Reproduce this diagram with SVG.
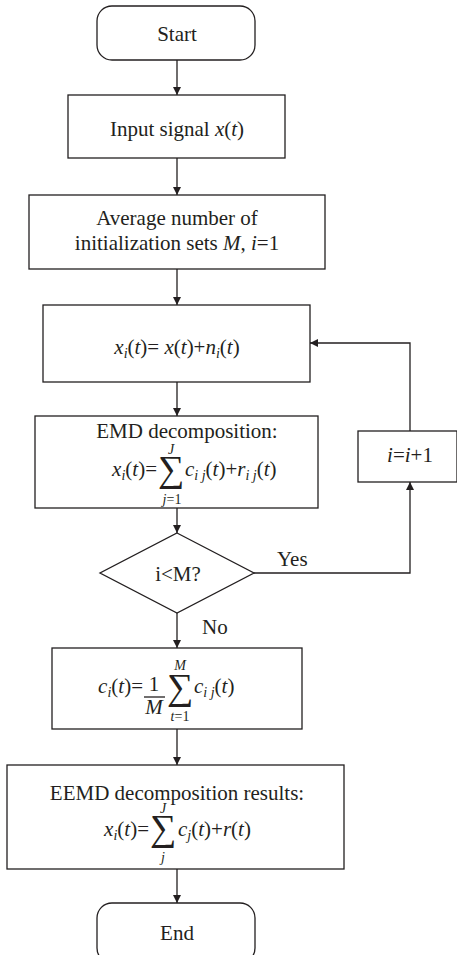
<svg xmlns="http://www.w3.org/2000/svg" width="457" height="955" viewBox="0 0 457 955">
  <defs>
    <marker id="arrow" viewBox="0 0 10 10" refX="10" refY="5" markerWidth="8" markerHeight="8" markerUnits="userSpaceOnUse" orient="auto">
      <path d="M0,0 L10,5 L0,10 z" fill="#231f20"/>
    </marker>
    <style>
      .box { fill: #ffffff; stroke: #231f20; stroke-width: 1.3; }
      .line { fill: none; stroke: #231f20; stroke-width: 1.3; }
      text { font-family: "Liberation Serif", "Times New Roman", serif; font-size: 21px; fill: #231f20; }
      .c { text-anchor: middle; }
      .e { text-anchor: end; }
      .it { font-style: italic; }
      .sm { font-size: 14px; }
      .sum { font-size: 37px; }
    </style>
  </defs>
  <rect width="457" height="955" fill="#ffffff"/>

  <!-- connectors -->
  <g id="connectors">
    <line class="line" x1="177" y1="60" x2="177" y2="95" marker-end="url(#arrow)"/>
    <line class="line" x1="177" y1="158" x2="177" y2="195" marker-end="url(#arrow)"/>
    <line class="line" x1="177" y1="269" x2="177" y2="305" marker-end="url(#arrow)"/>
    <line class="line" x1="177" y1="382" x2="177" y2="416" marker-end="url(#arrow)"/>
    <line class="line" x1="177" y1="508" x2="177" y2="533" marker-end="url(#arrow)"/>
    <line class="line" x1="177" y1="613" x2="177" y2="648" marker-end="url(#arrow)"/>
    <line class="line" x1="177" y1="729" x2="177" y2="765" marker-end="url(#arrow)"/>
    <line class="line" x1="177" y1="869" x2="177" y2="903" marker-end="url(#arrow)"/>
    <polyline class="line" points="254,573 410,573 410,482" marker-end="url(#arrow)"/>
    <polyline class="line" points="410,431 410,343 310,343" marker-end="url(#arrow)"/>
    <text x="277" y="566">Yes</text>
    <text x="202" y="634">No</text>
  </g>

  <g id="start">
    <rect class="box" x="97" y="6" width="158" height="54" rx="15"/>
    <text class="c" x="177" y="41">Start</text>
  </g>

  <g id="input">
    <rect class="box" x="68" y="95" width="217" height="63"/>
    <text class="c" x="177" y="136">Input signal <tspan class="it">x</tspan>(<tspan class="it">t</tspan>)</text>
  </g>

  <g id="init">
    <rect class="box" x="29" y="195" width="296" height="74"/>
    <text class="c" x="177" y="225">Average number of</text>
    <text class="c" x="177" y="250">initialization sets <tspan class="it">M</tspan>, <tspan class="it">i</tspan>=1</text>
  </g>

  <g id="noise">
    <rect class="box" x="43" y="305" width="267" height="77"/>
    <text class="c" x="177" y="354"><tspan class="it">x</tspan><tspan class="it sm" dy="4">i</tspan><tspan dy="-4">(</tspan><tspan class="it">t</tspan>)= <tspan class="it">x</tspan>(<tspan class="it">t</tspan>)+<tspan class="it">n</tspan><tspan class="it sm" dy="4">i</tspan><tspan dy="-4">(</tspan><tspan class="it">t</tspan>)</text>
  </g>

  <g id="emd">
    <rect class="box" x="35" y="416" width="283" height="92"/>
    <text class="c" x="187" y="438">EMD decomposition:</text>
    <text class="e" x="157" y="476"><tspan class="it">x</tspan><tspan class="it sm" dy="4">i</tspan><tspan dy="-4">(</tspan><tspan class="it">t</tspan>)=</text>
    <text class="c it sm" x="171" y="454">J</text>
    <text class="c sum" x="171" y="481">∑</text>
    <text class="c sm" x="172" y="504"><tspan class="it">j</tspan>=1</text>
    <text x="185" y="476"><tspan class="it">c</tspan><tspan class="it sm" dy="4">i j</tspan><tspan dy="-4">(</tspan><tspan class="it">t</tspan>)+<tspan class="it">r</tspan><tspan class="it sm" dy="4">i j</tspan><tspan dy="-4">(</tspan><tspan class="it">t</tspan>)</text>
  </g>

  <g id="check">
    <polygon class="box" points="177,533 254,573 177,613 100,573"/>
    <text class="c" x="178" y="581">i&lt;M?</text>
  </g>

  <g id="increment">
    <rect class="box" x="358" y="431" width="99" height="51"/>
    <text class="c" x="410" y="462"><tspan class="it">i</tspan>=<tspan class="it">i</tspan>+1</text>
  </g>

  <g id="average">
    <rect class="box" x="52" y="648" width="250" height="81"/>
    <text class="e" x="143" y="693"><tspan class="it">c</tspan><tspan class="it sm" dy="4">i</tspan><tspan dy="-4">(</tspan><tspan class="it">t</tspan>)=</text>
    <text class="c" x="154" y="691">1</text>
    <line class="line" x1="144" y1="697" x2="165" y2="697" stroke-width="1"/>
    <text class="c it" x="154" y="714">M</text>
    <text class="c it sm" x="180" y="670">M</text>
    <text class="c sum" x="180" y="699">∑</text>
    <text class="c sm" x="180" y="721"><tspan class="it">t</tspan>=1</text>
    <text x="194" y="693"><tspan class="it">c</tspan><tspan class="it sm" dy="4">i j</tspan><tspan dy="-4">(</tspan><tspan class="it">t</tspan>)</text>
  </g>

  <g id="result">
    <rect class="box" x="7" y="765" width="337" height="104"/>
    <text class="c" x="177" y="800">EEMD decomposition results:</text>
    <text class="e" x="149" y="836"><tspan class="it">x</tspan><tspan class="it sm" dy="4">i</tspan><tspan dy="-4">(</tspan><tspan class="it">t</tspan>)=</text>
    <text class="c it sm" x="163" y="813">J</text>
    <text class="c sum" x="163" y="840">∑</text>
    <text class="c it sm" x="163" y="862">j</text>
    <text x="178" y="836"><tspan class="it">c</tspan><tspan class="it sm" dy="4">j</tspan><tspan dy="-4">(</tspan><tspan class="it">t</tspan>)+<tspan class="it">r</tspan>(<tspan class="it">t</tspan>)</text>
  </g>

  <g id="end">
    <rect class="box" x="97" y="903" width="158" height="60" rx="15"/>
    <text class="c" x="177" y="940">End</text>
  </g>
</svg>
